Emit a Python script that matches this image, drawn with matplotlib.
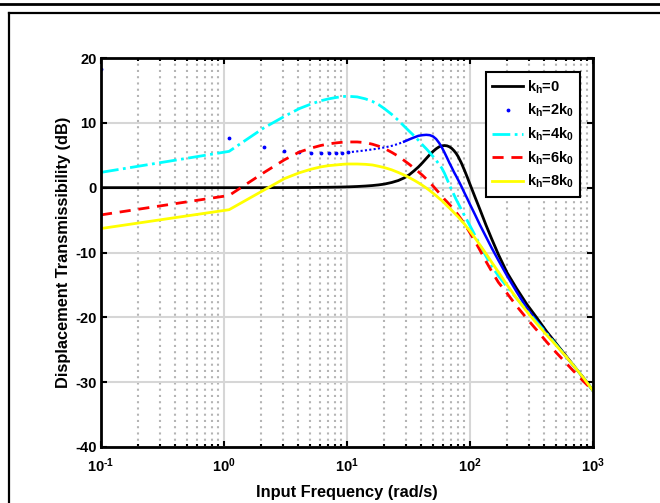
import numpy as np
import matplotlib
matplotlib.use("Agg")
import matplotlib.pyplot as plt
from matplotlib.lines import Line2D
from matplotlib.ticker import LogLocator, FixedLocator, FixedFormatter

# ------------------------------------------------------------
# Datos (frecuencia en rad/s, transmisibilidad en dB)
# ------------------------------------------------------------
freq = [0.1, 1.1, 2.1, 3.1, 4.1, 5.1, 6.1, 7.1, 8.1, 9.1, 10.1, 12.1, 14.1, 16.1,
        18.1, 20.1, 23.1, 26.1, 29.1, 32.1, 35.1, 38.1, 41.1, 44.1, 47.1, 50.1,
        53.1, 56.1, 59.1, 62.1, 65.1, 68.1, 71.1, 74.1, 77.1, 80.1, 85.1, 90.1,
        95.1, 100.1, 110.1, 120.1, 135.1, 150.1, 170.1, 200.1, 240.1, 290.1,
        350.1, 420.1, 500.1, 600.1, 720.1, 850.1, 999.1]

kh0_db = [0.0, 0.0, 0.0, 0.01, 0.02, 0.03, 0.05, 0.06, 0.08, 0.1, 0.12, 0.18, 0.25, 0.33,
          0.43, 0.55, 0.8, 1.1, 1.5, 2.0, 2.6, 3.2, 3.85, 4.5, 5.1, 5.6,
          6.0, 6.3, 6.45, 6.5, 6.45, 6.3, 6.05, 5.7, 5.3, 4.8, 3.8, 2.7,
          1.6, 0.5, -1.5, -3.3, -5.8, -7.9, -10.3, -13.1, -15.6, -18.0,
          -20.1, -22.2, -24.0, -25.9, -27.8, -29.5, -31.3]

# k_h = 2k_0: puntos aislados a baja frecuencia + tramo denso
kh2_dot_freq = [0.1, 1.1, 2.1, 3.1, 4.1, 5.1, 6.1, 7.1, 8.1, 9.1, 10.1]
kh2_dot_db = [18.3, 7.7, 6.2, 5.65, 5.45, 5.4, 5.4, 5.4, 5.4, 5.4, 5.45]
kh2_freq = freq[10:]
kh2_db = [5.45, 5.6, 5.75, 5.9,
          6.05, 6.2, 6.45, 6.75, 7.1, 7.45, 7.75, 8.0, 8.1, 8.15, 8.1, 7.9,
          7.5, 6.9, 6.2, 5.4, 4.6, 3.8, 3.1, 2.4, 1.8, 1.2, 0.2, -0.8,
          -1.7, -2.6, -4.2, -5.7, -7.6, -9.3, -11.2, -13.6, -16.1, -18.6,
          -20.6, -22.5, -24.2, -26.0, -27.8, -29.5, -31.3]

kh4_db = [2.36, 5.6, 9.2, 11.0, 12.2, 12.9, 13.4, 13.7, 13.9, 14.05, 14.1, 14.0, 13.7, 13.3,
          12.8, 12.2, 11.3, 10.4, 9.5, 8.7, 8.0, 7.3, 6.6, 6.0, 5.4, 4.8,
          4.2, 3.6, 3.0, 2.2, 1.3, 0.4, -0.4, -1.1, -1.8, -2.4, -3.4, -4.3,
          -5.1, -5.9, -7.4, -8.8, -10.6, -12.1, -13.6, -15.3, -17.1, -19.0,
          -20.8, -22.5, -24.2, -26.0, -27.8, -29.5, -31.3]

kh6_db = [-4.2, -1.2, 2.3, 4.3, 5.5, 6.1, 6.5, 6.75, 6.9, 7.0, 7.05, 7.05, 6.95, 6.7,
          6.4, 6.05, 5.45, 4.85, 4.2, 3.6, 3.0, 2.45, 1.9, 1.35, 0.8, 0.25,
          -0.3, -0.8, -1.3, -1.8, -2.2, -2.6, -3.0, -3.4, -3.8, -4.2, -4.9, -5.6,
          -6.3, -7.0, -8.3, -9.6, -11.4, -12.9, -14.6, -16.3, -18.3, -20.2,
          -22.0, -23.8, -25.4, -27.0, -28.6, -30.0, -31.3]

kh8_db = [-6.3, -3.4, -0.4, 1.4, 2.3, 2.85, 3.2, 3.4, 3.5, 3.6, 3.65, 3.65, 3.6, 3.5,
          3.3, 3.1, 2.75, 2.35, 1.95, 1.55, 1.15, 0.75, 0.35, -0.05, -0.45, -0.85,
          -1.25, -1.65, -2.0, -2.4, -2.8, -3.15, -3.5, -3.85, -4.2, -4.5, -5.1, -5.6,
          -6.2, -6.7, -7.8, -8.8, -10.2, -11.5, -13.0, -15.0, -17.1, -19.1,
          -21.0, -22.7, -24.3, -26.0, -27.8, -29.5, -31.3]

x_ticks = [0.1, 1, 10, 100, 1000]
x_tick_labels = [r"$10^{\text{-}1}$", r"$10^{0}$", r"$10^{1}$", r"$10^{2}$", r"$10^{3}$"]
y_ticks = [-40, -30, -20, -10, 0, 10, 20]

# ------------------------------------------------------------
# Estilo
# ------------------------------------------------------------
plt.rcParams["font.family"] = ["Liberation Sans", "DejaVu Sans"]
plt.rcParams["font.weight"] = "bold"
plt.rcParams["axes.unicode_minus"] = False
plt.rcParams["mathtext.fontset"] = "custom"
plt.rcParams["mathtext.rm"] = "Liberation Sans:bold"
plt.rcParams["mathtext.it"] = "Liberation Sans:bold"
plt.rcParams["mathtext.bf"] = "Liberation Sans:bold"
plt.rcParams["mathtext.default"] = "rm"

fig = plt.figure(figsize=(6.6, 5.03), dpi=100)
ax = fig.add_axes([101 / 660, 56 / 503, 492 / 660, 389 / 503])

# Marco de la página
fig.add_artist(Line2D([0, 1], [1 - 3.5 / 503, 1 - 3.5 / 503], color="black",
                      lw=2, transform=fig.transFigure))
fig.add_artist(Line2D([9 / 660, 1], [1 - 13.3 / 503, 1 - 13.3 / 503], color="black",
                      lw=1.6, transform=fig.transFigure))
fig.add_artist(Line2D([9 / 660, 9 / 660], [0, 1 - 13.3 / 503], color="black",
                      lw=1.6, transform=fig.transFigure))

# Curvas
ax.plot(freq, kh0_db, color="black", lw=2, label=r"$k_h$=0")
ax.plot(kh2_dot_freq, kh2_dot_db, ls="none", marker=".", ms=3.5,
        color="blue", label=r"$k_h$=2$k_0$")
ax.plot(kh2_freq[:9], kh2_db[:9], color="blue", lw=1.5, ls=(0, (1, 1.1)))
ax.plot(kh2_freq[8:], kh2_db[8:], color="blue", lw=1.8)
ax.plot(freq, kh4_db, color="cyan", lw=2, ls="-.", label=r"$k_h$=4$k_0$")
ax.plot(freq, kh6_db, color="red", lw=2, ls=(0, (4, 2.8)), label=r"$k_h$=6$k_0$")
ax.plot(freq, kh8_db, color="yellow", lw=2, label=r"$k_h$=8$k_0$")

ax.set_xscale("log")
ax.set_xlim(0.1, 1000)
ax.set_ylim(-40, 20)
ax.xaxis.set_major_locator(FixedLocator(x_ticks))
ax.xaxis.set_major_formatter(FixedFormatter(x_tick_labels))
ax.xaxis.set_minor_locator(LogLocator(base=10, subs=np.arange(2, 10), numticks=20))
ax.set_yticks(y_ticks)

ax.grid(True, which="major", color="#d6d6d6", lw=1.5, ls="-")
ax.grid(True, which="minor", axis="x", color="#b4b4b4", lw=1.5, ls=(0, (1, 2)))
ax.set_axisbelow(True)

ax.tick_params(which="both", direction="in", top=True, right=True,
               labelsize=10.5, width=1.5)
ax.tick_params(which="major", length=4)
ax.tick_params(which="minor", length=2.5)
ax.tick_params(axis="x", pad=7)
ax.tick_params(axis="y", pad=3)
for s in ax.spines.values():
    s.set_linewidth(2)

ax.set_xlabel("Input Frequency (rad/s)", fontsize=11.8, fontweight="bold", labelpad=7)
ax.set_ylabel("Displacement Transmissibility (dB)", fontsize=11.8, fontweight="bold",
              labelpad=3)

leg = ax.legend(loc="upper right", bbox_to_anchor=(0.974, 0.964), borderaxespad=0,
                fancybox=False, framealpha=1, edgecolor="black", fontsize=10.5,
                handlelength=2.1, labelspacing=0.42, borderpad=0.45, handletextpad=0.25)
leg.get_frame().set_linewidth(1.5)

fig.savefig("out.png", dpi=100)
